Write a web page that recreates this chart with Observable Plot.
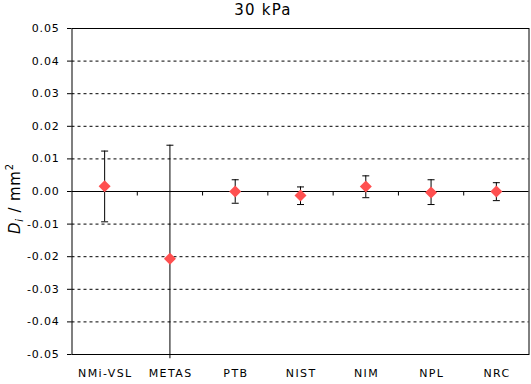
<!DOCTYPE html>
<html>
<head>
<meta charset="utf-8">
<script src="https://cdn.jsdelivr.net/npm/d3@7"></script>
<script src="https://cdn.jsdelivr.net/npm/@observablehq/plot@0.6"></script>
<style>
  body { margin: 0; background: #fff; }
  svg { display: block; }
</style>
</head>
<body>
<div id="chart"></div>
<script>
const title = "30 kPa";
const labs = ["NMi-VSL", "METAS", "PTB", "NIST", "NIM", "NPL", "NRC"];
const vals = [0.0016, -0.0206, 0.0000, -0.0012, 0.0015, -0.0003, 0.0000];
const upper = [0.0124, 0.0142, 0.0036, 0.0014, 0.0048, 0.0036, 0.0027];
const lower = [-0.0093, -0.0513, -0.0036, -0.0040, -0.0019, -0.0040, -0.0028];
const yTicks = [-0.05, -0.04, -0.03, -0.02, -0.01, 0, 0.01, 0.02, 0.03, 0.04, 0.05];
const gridVals = [-0.04, -0.03, -0.02, -0.01, 0.01, 0.02, 0.03, 0.04];

const data = labs.map((name, i) => ({name, pos: i + 0.5, v: vals[i], hi: upper[i], lo: lower[i]}));
const bounds = d3.range(1, labs.length);

const hCap = {draw(ctx, size) { const r = Math.sqrt(size / Math.PI); ctx.moveTo(-r, 0); ctx.lineTo(r, 0); }};
const vTick = {draw(ctx, size) { const r = Math.sqrt(size / Math.PI); ctx.moveTo(0, 0); ctx.lineTo(0, r); }};
const diamond = {draw(ctx, size) { const r = Math.sqrt(size / Math.PI); ctx.moveTo(0, -r); ctx.lineTo(r, 0); ctx.lineTo(0, r); ctx.lineTo(-r, 0); ctx.closePath(); }};

const plot = Plot.plot({
  width: 531,
  height: 384,
  marginTop: 28,
  marginBottom: 30,
  marginLeft: 71.5,
  marginRight: 2.5,
  style: {fontFamily: "'DejaVu Sans', Verdana, sans-serif", fontSize: "11px", color: "#000", background: "#fff"},
  x: {domain: [0, labs.length], axis: null},
  y: {domain: [-0.05, 0.05], axis: null},
  marks: [
    Plot.ruleY(gridVals, {stroke: "#000", strokeDasharray: "3,3", strokeWidth: 1}),
    Plot.ruleY([0], {stroke: "#000", strokeWidth: 1}),
    Plot.frame({stroke: "#000", strokeWidth: 1}),
    Plot.axisY({ticks: yTicks, tickSize: 4.5, tickPadding: 8, tickFormat: d => (Math.abs(d) < 1e-9 ? 0 : d).toFixed(2), label: null, fontSize: 11}),
    Plot.axisX({ticks: data.map(d => d.pos), tickSize: 0, tickPadding: 15, tickFormat: (d, i) => labs[i], label: null, fontSize: 11, dx: 0.7}),
    Plot.dot(bounds, {x: d => d, y: () => 0, symbol: vTick, r: 4, stroke: "#000", fill: "none", strokeWidth: 1}),
    Plot.ruleX(data, {x: "pos", y1: "lo", y2: "hi", stroke: "#000", strokeWidth: 1}),
    Plot.dot(data, {x: "pos", y: "hi", symbol: hCap, r: 3.5, stroke: "#000", fill: "none", strokeWidth: 1}),
    Plot.dot(data.filter(d => d.lo >= -0.05), {x: "pos", y: "lo", symbol: hCap, r: 3.5, stroke: "#000", fill: "none", strokeWidth: 1}),
    Plot.dot(data, {x: "pos", y: "v", symbol: diamond, r: 6, fill: "#ff5050", stroke: "none"}),
    Plot.text([title], {frameAnchor: "top", dx: -37.5, dy: -18, lineAnchor: "middle", fontSize: 15, fill: "#000"})
  ]
});

const svg = d3.select(plot);
svg.selectAll("g[aria-label='x-axis tick label'] text").attr("letter-spacing", 1.4);
svg.selectAll("g[aria-label='y-axis tick label'] text").attr("letter-spacing", 0.8);
svg.selectAll("g[aria-label='text'] text").attr("letter-spacing", 1.2);

const lab = svg.append("text")
  .attr("transform", "translate(20,234) rotate(-90)")
  .attr("font-family", "'DejaVu Sans', Verdana, sans-serif")
  .attr("font-size", 15)
  .attr("letter-spacing", 0.8)
  .attr("fill", "#000")
  .attr("text-anchor", "start");
lab.append("tspan").attr("font-style", "italic").text("D");
lab.append("tspan").attr("font-style", "italic").attr("font-size", 10).attr("dy", 3).text("i");
lab.append("tspan").attr("dy", -3).text(" / mm");
lab.append("tspan").attr("font-size", 10).attr("dy", -7).text("2");

document.getElementById("chart").appendChild(plot);
</script>
</body>
</html>
